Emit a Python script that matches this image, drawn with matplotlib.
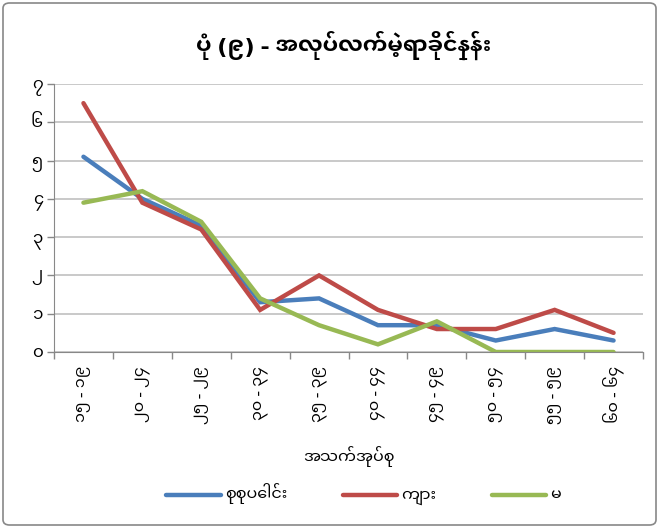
import matplotlib
matplotlib.use("Agg")
import matplotlib.pyplot as plt
from matplotlib import font_manager
from matplotlib.ft2font import FT2Font
from matplotlib.patches import FancyBboxPatch

# ---- data ----
categories = ["၁၅ - ၁၉", "၂၀ - ၂၄", "၂၅ - ၂၉", "၃၀ - ၃၄", "၃၅ - ၃၉",
              "၄၀ - ၄၄", "၄၅ - ၄၉", "၅၀ - ၅၄", "၅၅ - ၅၉", "၆၀ - ၆၄"]
total = [5.1, 4.0, 3.3, 1.3, 1.4, 0.7, 0.7, 0.3, 0.6, 0.3]
male = [6.5, 3.9, 3.2, 1.1, 2.0, 1.1, 0.6, 0.6, 1.1, 0.5]
female = [3.9, 4.2, 3.4, 1.4, 0.7, 0.2, 0.8, 0.0, 0.0, 0.0]
series_names = ["စုစုပေါင်း", "ကျား", "မ"]
ytick_values = [0, 1, 2, 3, 4, 5, 6, 7]
ytick_labels = ["၀", "၁", "၂", "၃", "၄", "၅", "၆", "၇"]
title = "ပုံ (၉) - အလုပ်လက်မဲ့ရာခိုင်နှုန်း"
xlabel = "အသက်အုပ်စု"

# ---- find fonts with Myanmar glyphs ----
regular_name = None
bold_name = None
try:
    for p in sorted(font_manager.findSystemFonts()):
        try:
            f = FT2Font(p)
            cm = f.get_charmap()
            if 0x1000 in cm and 0x1041 in cm:
                font_manager.fontManager.addfont(p)
                name = font_manager.FontProperties(fname=p).get_name()
                isbold = "bold" in p.lower() or "Bold" in (f.style_name or "")
                if isbold and bold_name is None:
                    bold_name = name
                if not isbold and regular_name is None:
                    regular_name = name
        except Exception:
            continue
except Exception:
    pass
main_name = bold_name or regular_name
base_fams = ([main_name] if main_name else []) + ["DejaVu Sans"]
plt.rcParams["font.family"] = base_fams

colors = ["#4A7EBB", "#BE4B48", "#98B954"]

W, H = 659, 528
fig = plt.figure(figsize=(W / 100, H / 100), dpi=100)
ax = fig.add_axes([54 / W, 1 - 352 / H, (643 - 54) / W, (352 - 84) / H])

x = list(range(len(categories)))
for vals, name, c in zip([total, male, female], series_names, colors):
    ax.plot(x, vals, color=c, lw=3.2, label=name, solid_capstyle="round",
            solid_joinstyle="miter")

ax.set_xlim(-0.5, len(categories) - 0.5)
ax.set_ylim(0, 7)
ax.set_yticks(ytick_values)
ax.set_yticklabels(ytick_labels, fontsize=12)
ax.set_xticks(x)
ax.set_xticklabels(categories, rotation=90, fontsize=11.5)
ax.set_xticks([i - 0.5 for i in range(len(categories) + 1)], minor=True)
ax.tick_params(axis="x", which="major", length=0, pad=10)
ax.tick_params(axis="x", which="minor", length=5, color="#888888", width=1)
ax.tick_params(axis="y", length=5, color="#888888", width=1, pad=3)
ax.grid(axis="y", color="#C0C0C0", lw=1.2)
ax.set_axisbelow(True)
for s in ["top", "right"]:
    ax.spines[s].set_visible(False)
for s in ["left", "bottom"]:
    ax.spines[s].set_color("#888888")
ax.set_xlabel(xlabel, fontsize=11.5, labelpad=16)

fig.text(0.521, 1 - 45 / H, title, ha="center", va="center", fontsize=16,
         fontweight="bold")

fig.legend(loc="center", bbox_to_anchor=(0.552, 1 - 494 / H), ncol=3,
           frameon=False, fontsize=11.5, handlelength=3.4, columnspacing=3.5,
           handletextpad=0.25)

fig.patches.append(FancyBboxPatch((3 / W, 3 / H), 1 - 6 / W, 1 - 6 / H,
                                  boxstyle="round,pad=0,rounding_size=0.01",
                                  transform=fig.transFigure, fill=False,
                                  edgecolor="#888888", lw=1.2))

fig.savefig("out.png", dpi=100)
